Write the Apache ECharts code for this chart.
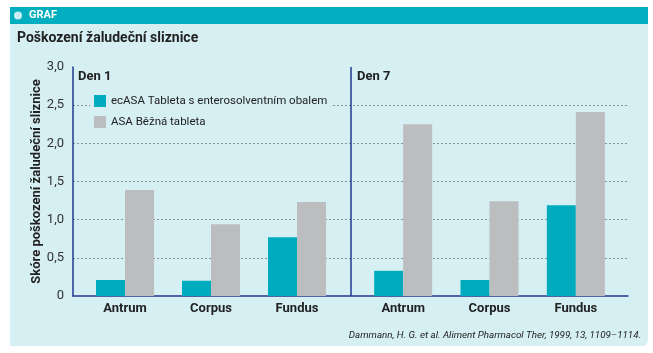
<!DOCTYPE html>
<html>
<head>
<meta charset="utf-8">
<script src="https://cdn.jsdelivr.net/npm/echarts@6/dist/echarts.min.js"></script>
<style>
  html, body { margin: 0; padding: 0; background: #fff; }
  #chart { width: 653px; height: 353px; }
</style>
</head>
<body>
<div id="chart"></div>
<script>
// data
var categories = ['Antrum', 'Corpus', 'Fundus']
var seriesNames = ['ecASA Tableta s enterosolventním obalem', 'ASA Běžná tableta']
var day1EcAsa = [0.21, 0.20, 0.77]
var day1Asa = [1.39, 0.94, 1.23]
var day7EcAsa = [0.33, 0.21, 1.19]
var day7Asa = [2.25, 1.24, 2.41]
var panelLabels = ['Den 1', 'Den 7']

var teal = '#00abbd'
var grey = '#bcbdbf'
var bg = '#d6eff3'
var axisBlue = '#1f3a8f'
var font = 'Roboto'

var chart = echarts.init(document.getElementById('chart'), null, { renderer: 'canvas' })

function barSeries (name, data, idx, color) {
  return {
    name: name,
    type: 'bar',
    xAxisIndex: idx,
    yAxisIndex: idx,
    data: data,
    barWidth: 29,
    barGap: '0%',
    itemStyle: { color: color },
    z: 3
  }
}

chart.setOption({
  animation: false,
  backgroundColor: '#fff',
  textStyle: { fontFamily: font },
  graphic: [
    { type: 'rect', shape: { x: 10, y: 24, width: 638, height: 322, r: [0, 0, 6, 0] }, style: { fill: bg }, z: -10 },
    { type: 'rect', shape: { x: 10, y: 7, width: 638, height: 17 }, style: { fill: '#00aebf' }, z: -10 },
    { type: 'circle', shape: { cx: 18, cy: 15.5, r: 4 }, style: { fill: '#c9eef3' } },
    { type: 'text', x: 29, y: 15.5, style: { text: 'GRAF', fill: '#fff', font: 'bold 11px ' + font, textVerticalAlign: 'middle' } },
    { type: 'text', x: 17, y: 38, style: { text: 'Poškození žaludeční sliznice', fill: '#222', font: 'bold 14px ' + font, textVerticalAlign: 'middle' } },
    { type: 'text', x: 78, y: 77, style: { text: panelLabels[0], fill: '#222', font: 'bold 13px ' + font, textVerticalAlign: 'middle' } },
    { type: 'text', x: 357, y: 77, style: { text: panelLabels[1], fill: '#222', font: 'bold 13px ' + font, textVerticalAlign: 'middle' } },
    { type: 'text', x: 641, y: 336, style: { text: 'Dammann, H. G. et al. Aliment Pharmacol Ther, 1999, 13, 1109–1114.', fill: '#222', font: 'italic 9.8px ' + font, textAlign: 'right', textVerticalAlign: 'middle' } }
  ],
  legend: {
    orient: 'vertical',
    left: 90,
    top: 95,
    data: seriesNames,
    icon: 'rect',
    itemWidth: 12,
    itemHeight: 12,
    itemGap: 9,
    padding: [0, 4, 0, 4],
    backgroundColor: bg,
    textStyle: { color: '#222', fontSize: 11.5, fontFamily: font },
    z: 5
  },
  grid: [
    { left: 73, right: 25, top: 67, bottom: 57 },
    { left: 82, width: 258, top: 67, bottom: 57 },
    { left: 360, width: 259, top: 67, bottom: 57 }
  ],
  xAxis: [
    {
      gridIndex: 0,
      type: 'value',
      min: 0,
      max: 2,
      interval: 1,
      axisLine: { show: true, onZero: false, lineStyle: { color: axisBlue, width: 1.5 } },
      axisTick: { show: false },
      axisLabel: { show: false },
      splitLine: { show: true, lineStyle: { color: ['transparent', axisBlue, 'transparent'], width: 1.5 } }
    },
    {
      gridIndex: 1,
      type: 'category',
      data: categories,
      axisLine: { show: false },
      axisTick: { show: false },
      axisLabel: { color: '#222', fontSize: 13, fontWeight: 'bold', margin: 6 }
    },
    {
      gridIndex: 2,
      type: 'category',
      data: categories,
      axisLine: { show: false },
      axisTick: { show: false },
      axisLabel: { color: '#222', fontSize: 13, fontWeight: 'bold', margin: 6 }
    }
  ],
  yAxis: [
    {
      gridIndex: 0,
      type: 'value',
      min: 0,
      max: 3,
      interval: 0.5,
      name: 'Skóre poškození žaludeční sliznice',
      nameLocation: 'middle',
      nameGap: 30,
      nameMoveOverlap: false,
      nameTextStyle: { color: '#222', fontSize: 13, fontWeight: 'bold' },
      axisLine: { show: true, lineStyle: { color: axisBlue, width: 1.5 } },
      axisTick: { show: false },
      axisLabel: {
        color: '#333',
        fontSize: 13,
        margin: 9,
        formatter: function (v) {
          return v === 0 ? '0' : v.toFixed(1).replace('.', ',')
        }
      },
      splitLine: {
        show: true,
        lineStyle: {
          color: ['transparent', '#8a8f94', '#8a8f94', '#8a8f94', '#8a8f94', '#8a8f94', 'transparent'],
          type: [2, 2],
          width: 1
        }
      }
    },
    { gridIndex: 1, type: 'value', min: 0, max: 3, show: false },
    { gridIndex: 2, type: 'value', min: 0, max: 3, show: false }
  ],
  series: [
    barSeries(seriesNames[0], day1EcAsa, 1, teal),
    barSeries(seriesNames[1], day1Asa, 1, grey),
    barSeries(seriesNames[0], day7EcAsa, 2, teal),
    barSeries(seriesNames[1], day7Asa, 2, grey)
  ]
})
</script>
</body>
</html>
